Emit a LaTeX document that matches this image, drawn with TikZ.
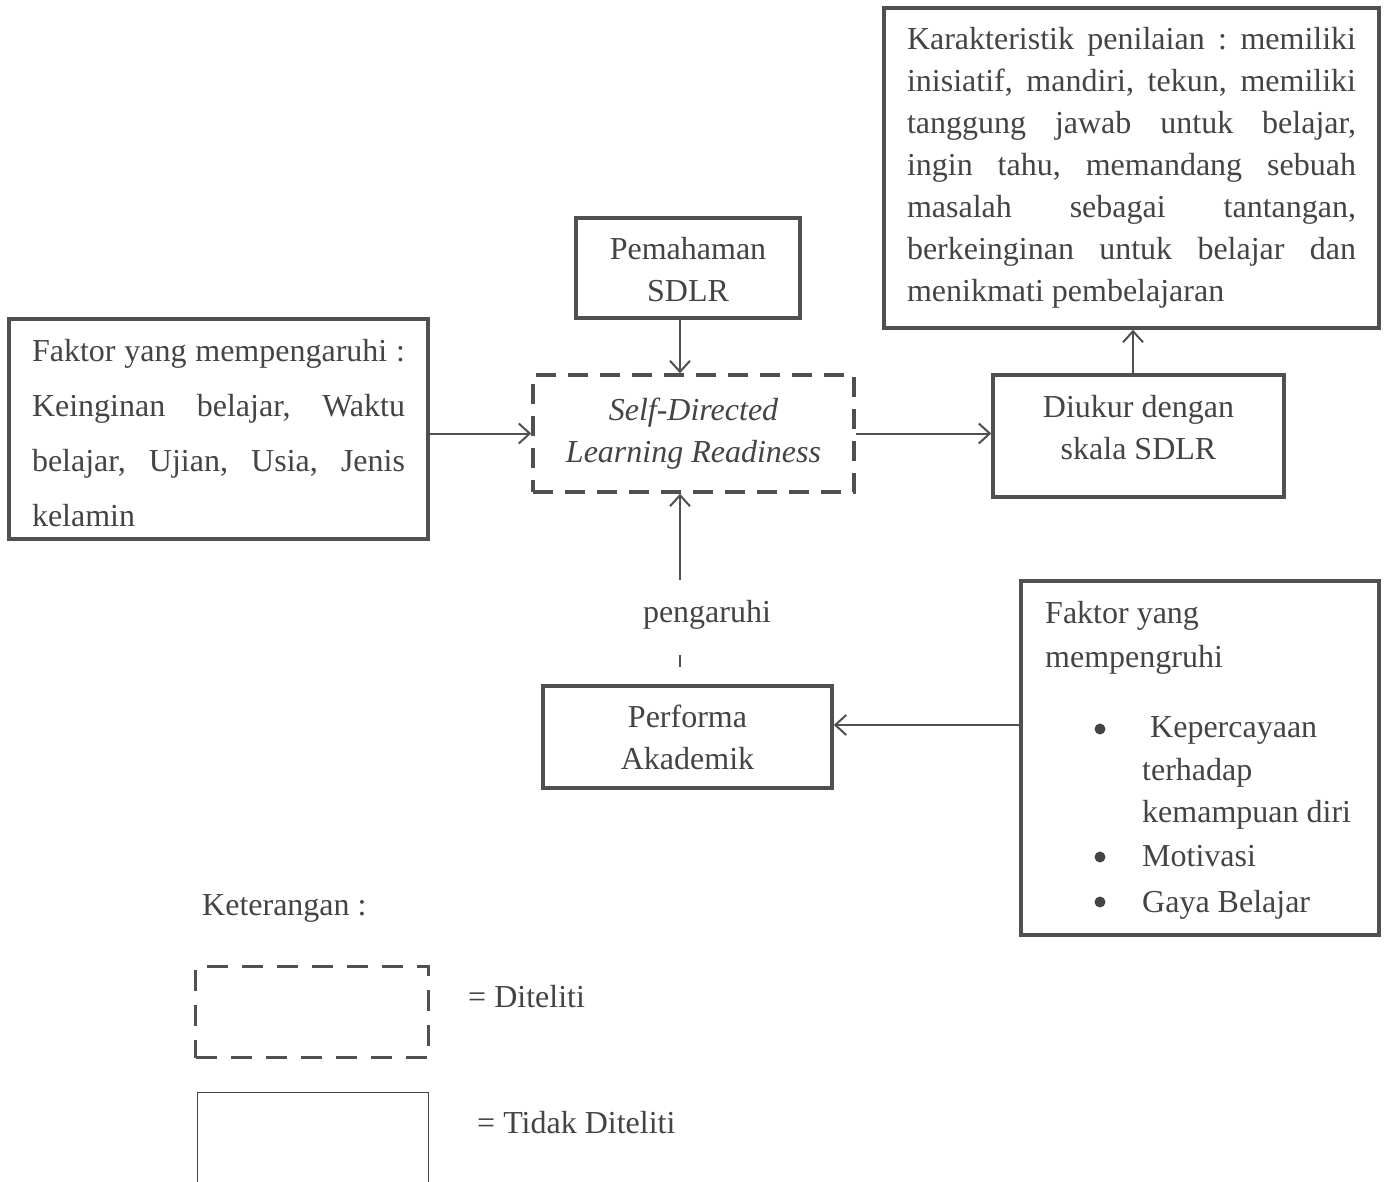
\documentclass[tikz,border=0pt]{standalone}
\usepackage{fontspec}
\setmainfont{Liberation Serif}
\usetikzlibrary{arrows.meta,calc}
\definecolor{ink}{RGB}{68,68,68}
\definecolor{edge}{RGB}{80,80,80}
\newcommand{\tlines}[1]{\begin{tabular}{@{}c@{}}#1\end{tabular}}
\hbadness=10000 \hfuzz=6pt
\frenchspacing
\begin{document}
\begin{tikzpicture}[x=1pt,y=-1pt,
  every node/.style={text=ink, font=\fontsize{32}{42}\selectfont},
  box/.style={draw=edge, line width=3.5pt, inner sep=0pt, rectangle},
  dbox/.style={box, dash pattern=on 20pt off 12pt},
  conn/.style={draw=edge, line width=2pt},
  arr/.style={conn, -{Straight Barb[length=11pt,width=20pt]}},
  lbl/.style={inner sep=0pt, anchor=base west},
]
\useasboundingbox[fill=white] (0,0) rectangle (1387,1182);

% main boxes
\node[box, minimum width=419, minimum height=220] (fak1) at (218.5,429)
  {\raisebox{-4pt}[\height][\depth]{\parbox{373pt}{\fontsize{32}{55}\selectfont Faktor yang mempengaruhi :\linebreak Keinginan belajar, Waktu\linebreak belajar, Ujian, Usia, Jenis\linebreak kelamin}}};

\node[box, minimum width=495, minimum height=320] (kar) at (1131.5,168)
  {\parbox{449pt}{\fontsize{32}{42}\selectfont Karakteristik penilaian : memiliki\linebreak inisiatif, mandiri, tekun, memiliki\linebreak tanggung jawab untuk belajar,\linebreak ingin tahu, memandang sebuah\linebreak masalah sebagai tantangan,\linebreak berkeinginan untuk belajar dan\linebreak menikmati pembelajaran}};

\node[box, minimum width=224, minimum height=100] (pem) at (688,268)
  {\raisebox{-4pt}[\height][\depth]{\tlines{Pemahaman\\SDLR}}};

\node[dbox, minimum width=321, minimum height=117, font=\fontsize{32}{42}\selectfont\itshape] (sdlr) at (693.5,433.5)
  {\tlines{\itshape Self-Directed\\\itshape Learning Readiness}};

\node[box, minimum width=291, minimum height=122] (diu) at (1138.5,436)
  {\raisebox{6pt}[\height][\depth]{\tlines{Diukur dengan\\skala SDLR}}};

\node[box, minimum width=289, minimum height=102] (perf) at (687.5,737)
  {\raisebox{-3pt}[\height][\depth]{\tlines{Performa\\Akademik}}};

\node[box, minimum width=358, minimum height=354] (fak2) at (1200,758) {};
\node[lbl] (f2a) at (1045,623) {Faktor yang};
\node[lbl] (f2b) at (1045,667) {mempengruhi};
\node[lbl] (f2c) at (1150,737) {Kepercayaan};
\node[lbl] (f2d) at (1142,780) {terhadap};
\node[lbl] (f2e) at (1142,822) {kemampuan diri};
\node[lbl] (f2f) at (1142,866) {Motivasi};
\node[lbl] (f2g) at (1142,912) {Gaya Belajar};
\fill[ink] (1100,729) circle (5.5pt);
\fill[ink] (1100,857) circle (5.5pt);
\fill[ink] (1100,902) circle (5.5pt);

% connectors
\draw[arr] (sdlr.west -| fak1.east) -- (sdlr.west);
\coordinate (pemb) at ([xshift=-8pt]pem.south);
\draw[arr] (pemb) -- (pemb |- sdlr.north);
\draw[arr] (sdlr.east) -- (sdlr.east -| diu.west);
\coordinate (diut) at ([xshift=-5.5pt]diu.north);
\draw[arr] (diut) -- (diut |- kar.south);
\coordinate (perfe) at ([yshift=12pt]perf.east);
\draw[arr] (perfe -| fak2.west) -- (perfe);

\node[inner sep=0pt, anchor=base] (peng) at (707,622) {pengaruhi};
\coordinate (pa) at (680,580);
\draw[arr] (pa) -- (pa |- sdlr.south);
\coordinate (pb) at (680,655);
\coordinate (pc) at (680,667);
\draw[conn] (pb) -- (pc);

% legend
\node[lbl] (ket) at (202,915) {Keterangan :};
\node[dbox, minimum width=233, minimum height=91, dash pattern=on 21pt off 14pt] (legd) at (312,1012) {};
\node[lbl] (legdt) at (468,1007) {= Diteliti};
\draw[draw=ink, line width=1pt] (197,1192) -- (197,1092) -- (428,1092) -- (428,1192);
\node[lbl] (legst) at (477,1133) {= Tidak Diteliti};
\end{tikzpicture}
\end{document}
